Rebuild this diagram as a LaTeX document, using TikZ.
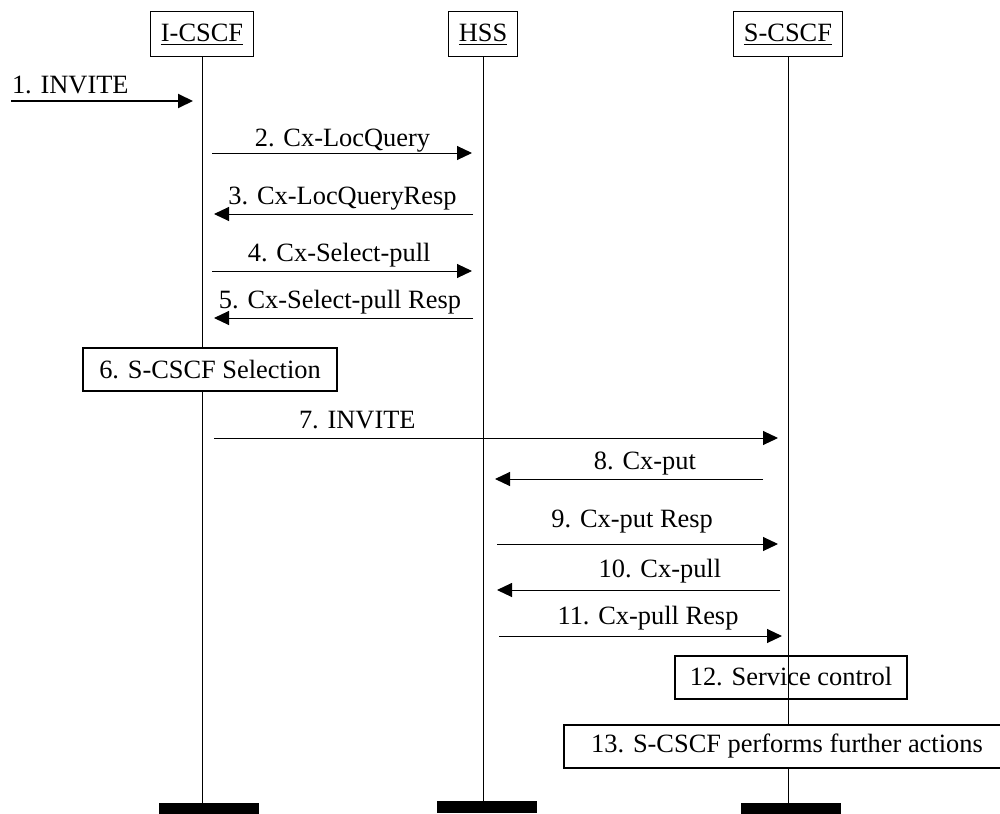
\documentclass[tikz,border=0pt]{standalone}
\usepackage{fontspec}
\setmainfont{Liberation Serif}
\usetikzlibrary{arrows.meta}
\usetikzlibrary{positioning}

\begin{document}
\begin{tikzpicture}[x=0.5pt, y=-0.5pt, >={Triangle[length=7.5pt, width=7pt]},
    font=\fontsize{13.2pt}{16pt}\selectfont,
    entity/.style={draw, line width=0.5pt, inner xsep=5pt, minimum height=22.5pt},
    action/.style={draw, line width=1pt, fill=white, minimum height=21.5pt},
    bar/.style={fill=black, inner sep=0pt, minimum width=50pt, minimum height=6pt},
    msg/.style={->, line width=0.5pt, shorten <=5pt, shorten >=5.5pt},
    lbl/.style={anchor=base, yshift=5pt, inner sep=0pt}]

    \useasboundingbox (0,0) rectangle (1000,813);

    % entities
    \node[entity] (icscf) at (202,34.5) {\underline{I-CSCF}};
    \node[entity] (hss) at (483,34.5) {\underline{HSS}};
    \node[entity] (scscf) at (788,34.5) {\underline{S-CSCF}};

    % end bars
    \node[bar] (icscfend) at (209,809) {};
    \node[bar] (hssend) at (487,807) {};
    \node[bar] (scscfend) at (790.5,809) {};

    % lifelines
    \draw[line width=0.5pt] (icscf) -- (icscf |- icscfend.north);
    \draw[line width=0.5pt] (hss) -- (hss |- hssend.north);
    \draw[line width=0.5pt] (scscf) -- (scscf |- scscfend.north);

    % messages
    \coordinate (in) at (11,101);
    \draw[->, line width=1pt, shorten >=4.5pt] (in) node[anchor=base west, yshift=3.5pt, inner sep=0pt] {1. INVITE} -- (icscf |- in);

    \draw[msg] (icscf |- 0,153) -- (hss |- 0,153) node[lbl, yshift=-1.7pt, midway] {2. Cx-LocQuery};
    \draw[msg, shorten >=6pt] (hss |- 0,214) -- (icscf |- 0,214) node[lbl, midway] {3. Cx-LocQueryResp};
    \draw[msg] (icscf |- 0,271) -- (hss |- 0,271) node[lbl, pos=0.488] {4. Cx-Select-pull};
    \draw[msg, shorten >=6pt] (hss |- 0,318) -- (icscf |- 0,318) node[lbl, pos=0.509] {5. Cx-Select-pull Resp};

    \node[action, minimum width=127pt] (sel) at (210,369.5) {6. S-CSCF Selection};

    \draw[msg, shorten <=6pt, shorten >=5pt] (icscf |- 0,438) -- (scscf |- 0,438) node[lbl, pos=0.265] {7. INVITE};
    \draw[msg, shorten <=12.5pt, shorten >=6pt] (scscf |- 0,479) -- (hss |- 0,479) node[lbl, pos=0.469] {8. Cx-put};
    \draw[msg, shorten <=7pt, shorten >=5pt] (hss |- 0,544) -- (scscf |- 0,544) node[lbl, yshift=3.5pt, pos=0.489] {9. Cx-put Resp};
    \draw[msg, shorten <=4pt, shorten >=7pt] (scscf |- 0,590) -- (hss |- 0,590) node[lbl, yshift=1.5pt, pos=0.42] {10. Cx-pull};
    \draw[msg, shorten <=8pt, shorten >=3pt] (hss |- 0,636) -- (scscf |- 0,636) node[lbl, yshift=1pt, pos=0.541] {11. Cx-pull Resp};

    % actions at S-CSCF
    \node[action, fill=none, minimum width=115.75pt] (svc) at (791,677) {12. Service control};
    \node[action, minimum width=223pt] (further) at (787,746.5) {13. S-CSCF performs further actions};

\end{tikzpicture}
\end{document}
